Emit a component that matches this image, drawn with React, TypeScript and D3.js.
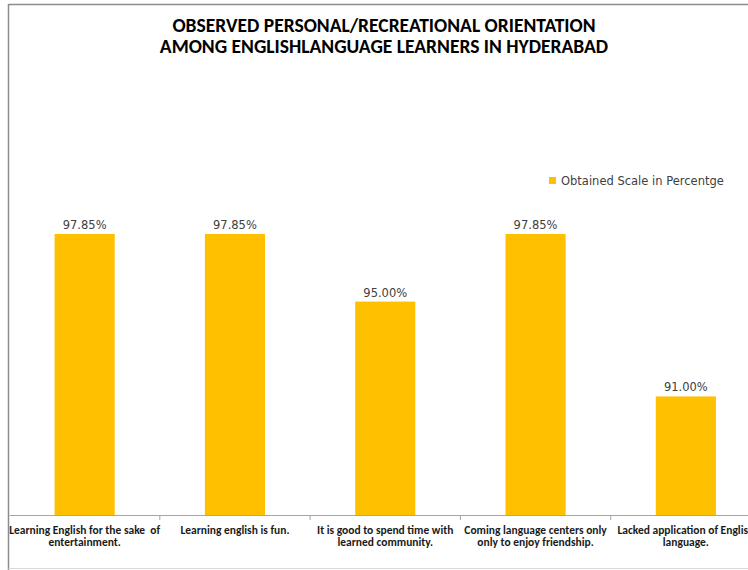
import React from "react";
import * as d3 from "d3";

const categories: string[][] = [
  ["Learning English for the sake  of", "entertainment."],
  ["Learning english is fun."],
  ["It is good to spend time with", "learned community."],
  ["Coming language centers only", "only to enjoy friendship."],
  ["Lacked application of English", "language."],
];
const values: number[] = [97.85, 97.85, 95.0, 97.85, 91.0];
const seriesName = "Obtained Scale in Percentge";
const titleLines = [
  "OBSERVED PERSONAL/RECREATIONAL ORIENTATION",
  "AMONG ENGLISHLANGUAGE LEARNERS IN HYDERABAD",
];
const yDomain: [number, number] = [86, 100];

const W = 748;
const H = 570;
const plot = { left: 9.5, right: 761, top: 183, bottom: 515 };
const barColor = "#FFC000";
const labelFont = "Carlito, 'Liberation Sans Narrow', 'Liberation Sans', Arial, sans-serif";
const valueFont = "'DejaVu Sans', Verdana, sans-serif";

export default function App() {
  const y = d3.scaleLinear().domain(yDomain).range([plot.bottom, plot.top]);
  const x = d3
    .scaleBand<number>()
    .domain(d3.range(values.length))
    .range([plot.left, plot.right])
    .paddingInner(0)
    .paddingOuter(0);
  const catW = x.bandwidth();
  const bandStart = (i: number) => plot.left + i * catW;

  return (
    <svg
      width={W}
      height={H}
      style={{ position: "absolute", left: 0, top: 0, background: "#fff" }}
    >
      {/* chart border */}
      <line x1={8.5} x2={W} y1={4.5} y2={4.5} stroke="#8c8c8c" strokeWidth={1.5} />
      <line x1={8.5} x2={8.5} y1={4} y2={H} stroke="#8c8c8c" strokeWidth={1.5} />
      <line x1={8.5} x2={W} y1={568.5} y2={568.5} stroke="#d9d9d9" strokeWidth={1} />

      {/* title */}
      {titleLines.map((t, i) => (
        <text
          key={i}
          x={384}
          y={31.5 + i * 21.5}
          textAnchor="middle"
          fontFamily={labelFont}
          fontWeight="bold"
          fontSize={19.5}
          fill="#000"
        >
          {t}
        </text>
      ))}

      {/* legend */}
      <rect x={549} y={177} width={7} height={7} fill={barColor} />
      <text x={561} y={185} fontFamily={valueFont} fontSize={11.5} fill="#404040">
        {seriesName}
      </text>

      {/* bars */}
      {values.map((v, i) => {
        const cx = (x(i) as number) + catW / 2;
        const bw = catW * 0.4;
        return (
          <g key={i}>
            <rect
              x={cx - bw / 2}
              y={y(v)}
              width={bw}
              height={y(yDomain[0]) - y(v)}
              fill={barColor}
            />
            <text
              x={cx}
              y={y(v) - 5}
              textAnchor="middle"
              fontFamily={valueFont}
              fontSize={11.5}
              fill="#404040"
            >
              {v.toFixed(2)}%
            </text>
          </g>
        );
      })}

      {/* x axis */}
      <line x1={plot.left} x2={W} y1={plot.bottom + 0.5} y2={plot.bottom + 0.5} stroke="#a6a6a6" strokeWidth={1} />
      {d3.range(1, values.length + 1).map((i) => (
        <line
          key={i}
          x1={bandStart(i)}
          x2={bandStart(i)}
          y1={plot.bottom}
          y2={plot.bottom + 5}
          stroke="#a6a6a6"
        />
      ))}
      {categories.map((lines, i) => (
        <text
          key={i}
          textAnchor="middle"
          fontFamily={labelFont}
          fontWeight="bold"
          fontSize={11.5}
          fill="#1a1a1a"
          style={{ whiteSpace: "pre" }}
        >
          {lines.map((l, j) => (
            <tspan key={j} x={bandStart(i) + catW / 2} y={533.5 + j * 12.5}>
              {l}
            </tspan>
          ))}
        </text>
      ))}
    </svg>
  );
}
